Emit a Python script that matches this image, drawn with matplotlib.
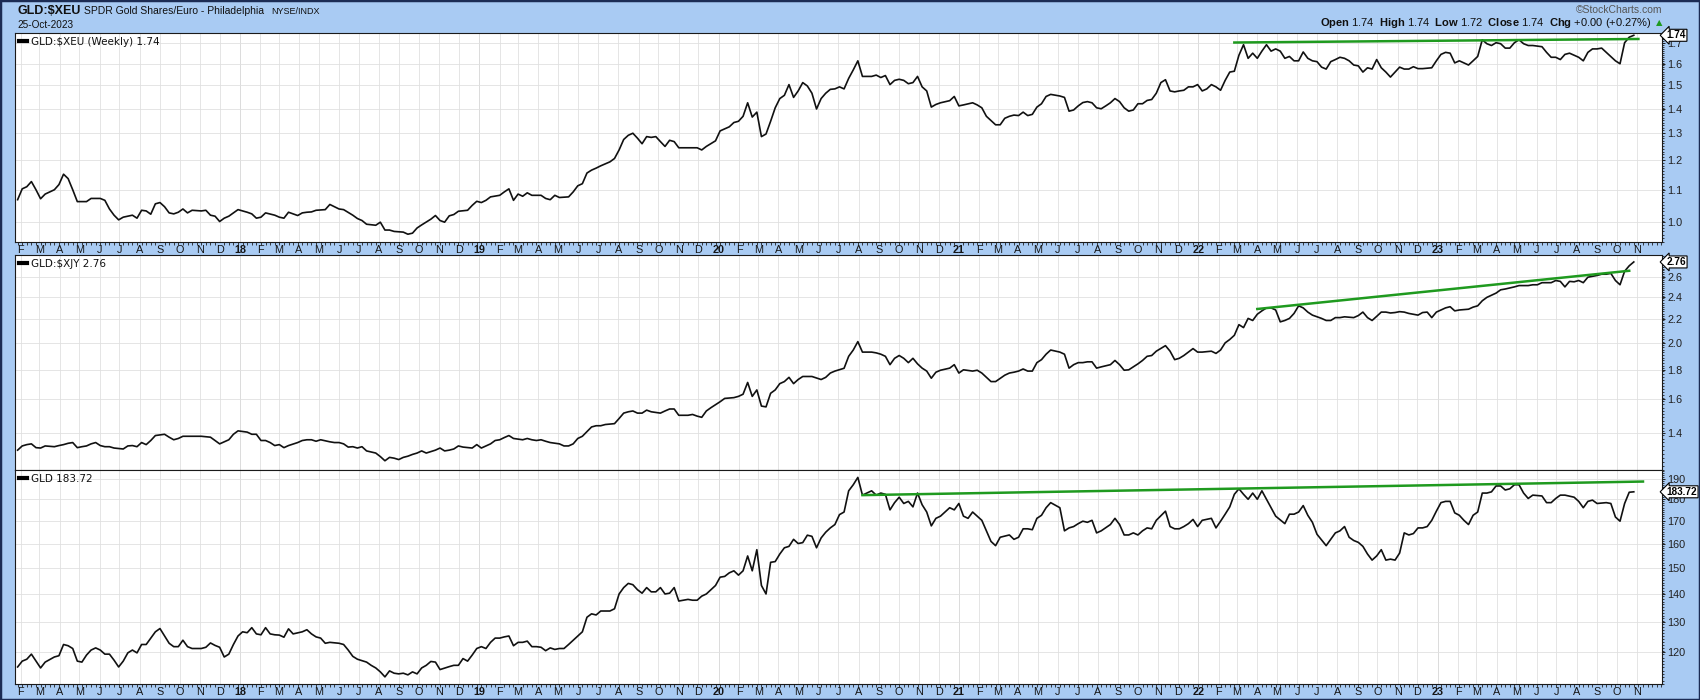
import numpy as np
import pandas as pd
import matplotlib
matplotlib.use("Agg")
import matplotlib.pyplot as plt
from matplotlib.ticker import FixedLocator, FixedFormatter, NullFormatter
from matplotlib.lines import Line2D
from matplotlib.patches import Rectangle

plt.rcParams["mathtext.fontset"] = "custom"
plt.rcParams["mathtext.rm"] = "Liberation Sans"
plt.rcParams["mathtext.bf"] = "Liberation Sans:bold"

# weekly bars, counted from the first bar of the chart
first_bar = pd.Timestamp("2017-01-27")

# GLD:$XEU (top panel)
xeu_week = [0, 1, 2, 3, 4, 5, 6, 8, 9, 10,
            11, 12, 13, 14, 15, 16, 18, 19, 20, 21,
            22, 23, 24, 25, 26, 27, 28, 29, 30, 31,
            32, 33, 34, 35, 36, 37, 38, 39, 40, 41,
            42, 43, 44, 45, 46, 48, 50, 51, 52, 53,
            54, 56, 57, 58, 59, 61, 62, 63, 64, 65,
            67, 68, 70, 71, 73, 74, 75, 76, 78, 79,
            80, 81, 82, 84, 85, 86, 87, 88, 90, 91,
            92, 93, 94, 95, 96, 98, 99, 100, 101, 102,
            103, 105, 106, 107, 108, 109, 110, 111, 112, 114,
            115, 116, 117, 118, 120, 121, 122, 123, 124, 125,
            126, 127, 129, 130, 131, 132, 133, 134, 135, 136,
            137, 138, 139, 140, 141, 142, 143, 144, 146, 147,
            148, 149, 150, 152, 153, 154, 155, 156, 157, 158,
            159, 160, 161, 162, 163, 164, 165, 166, 167, 168,
            169, 170, 171, 172, 173, 174, 175, 176, 177, 178,
            179, 180, 181, 182, 183, 184, 186, 187, 188, 189,
            190, 191, 192, 193, 194, 195, 196, 197, 198, 199,
            200, 201, 203, 204, 205, 206, 208, 209, 210, 211,
            213, 214, 215, 216, 217, 218, 219, 220, 221, 222,
            223, 224, 225, 227, 228, 229, 230, 231, 232, 233,
            234, 235, 236, 237, 238, 239, 240, 241, 242, 243,
            244, 245, 246, 247, 248, 249, 250, 251, 252, 253,
            254, 255, 256, 257, 258, 259, 260, 261, 262, 263,
            264, 265, 266, 267, 268, 269, 270, 271, 272, 273,
            274, 275, 276, 277, 278, 279, 280, 281, 282, 283,
            284, 285, 286, 287, 288, 289, 290, 291, 292, 293,
            294, 295, 296, 297, 298, 299, 300, 301, 302, 303,
            304, 305, 306, 308, 309, 310, 311, 312, 313, 314,
            315, 316, 317, 318, 319, 320, 321, 322, 323, 324,
            325, 326, 327, 328, 329, 330, 332, 333, 334, 335,
            336, 337, 338, 340, 341, 342, 343, 344, 345, 346,
            348, 349, 350, 351, 352]
xeu_val = [1.068, 1.103, 1.110, 1.127, 1.100, 1.071, 1.086, 1.100, 1.117, 1.152,
           1.137, 1.100, 1.062, 1.062, 1.062, 1.072, 1.072, 1.066, 1.039, 1.020,
           1.006, 1.014, 1.017, 1.020, 1.011, 1.035, 1.033, 1.023, 1.055, 1.059,
           1.046, 1.027, 1.024, 1.029, 1.039, 1.027, 1.035, 1.034, 1.033, 1.035,
           1.020, 1.017, 1.001, 1.011, 1.017, 1.037, 1.029, 1.024, 1.011, 1.014,
           1.027, 1.020, 1.014, 1.011, 1.029, 1.019, 1.027, 1.029, 1.030, 1.035,
           1.037, 1.053, 1.039, 1.037, 1.020, 1.010, 1.004, 0.993, 0.990, 0.999,
           0.976, 0.976, 0.972, 0.970, 0.964, 0.967, 0.982, 0.991, 1.008, 1.019,
           1.004, 0.999, 1.018, 1.022, 1.032, 1.035, 1.050, 1.063, 1.059, 1.066,
           1.077, 1.082, 1.093, 1.103, 1.066, 1.086, 1.079, 1.090, 1.082, 1.082,
           1.072, 1.068, 1.082, 1.075, 1.077, 1.093, 1.113, 1.120, 1.156, 1.166,
           1.173, 1.181, 1.195, 1.207, 1.238, 1.277, 1.293, 1.301, 1.282, 1.261,
           1.288, 1.285, 1.288, 1.269, 1.251, 1.274, 1.269, 1.246, 1.246, 1.246,
           1.246, 1.238, 1.251, 1.272, 1.310, 1.318, 1.326, 1.343, 1.348, 1.368,
           1.424, 1.365, 1.385, 1.288, 1.298, 1.348, 1.403, 1.442, 1.456, 1.503,
           1.447, 1.475, 1.512, 1.497, 1.465, 1.398, 1.442, 1.465, 1.482, 1.484,
           1.493, 1.484, 1.531, 1.570, 1.613, 1.540, 1.540, 1.546, 1.535, 1.544,
           1.503, 1.522, 1.527, 1.522, 1.507, 1.512, 1.540, 1.493, 1.475, 1.406,
           1.417, 1.424, 1.433, 1.451, 1.411, 1.415, 1.424, 1.415, 1.403, 1.368,
           1.334, 1.334, 1.360, 1.368, 1.373, 1.371, 1.385, 1.371, 1.376, 1.406,
           1.420, 1.451, 1.460, 1.453, 1.447, 1.389, 1.394, 1.411, 1.425, 1.429,
           1.424, 1.403, 1.399, 1.411, 1.424, 1.442, 1.429, 1.403, 1.389, 1.394,
           1.420, 1.420, 1.434, 1.438, 1.465, 1.512, 1.525, 1.475, 1.471, 1.475,
           1.478, 1.493, 1.493, 1.503, 1.475, 1.484, 1.503, 1.493, 1.478, 1.522,
           1.560, 1.564, 1.640, 1.692, 1.625, 1.650, 1.625, 1.660, 1.692, 1.660,
           1.671, 1.660, 1.625, 1.634, 1.613, 1.613, 1.656, 1.625, 1.613, 1.609,
           1.583, 1.574, 1.609, 1.619, 1.630, 1.625, 1.613, 1.593, 1.589, 1.560,
           1.580, 1.574, 1.619, 1.580, 1.560, 1.537, 1.560, 1.583, 1.574, 1.574,
           1.585, 1.576, 1.576, 1.580, 1.613, 1.644, 1.654, 1.650, 1.603, 1.613,
           1.603, 1.593, 1.613, 1.634, 1.717, 1.697, 1.688, 1.702, 1.697, 1.675,
           1.675, 1.702, 1.717, 1.697, 1.688, 1.688, 1.682, 1.654, 1.630, 1.630,
           1.619, 1.644, 1.650, 1.630, 1.613, 1.654, 1.671, 1.671, 1.675, 1.654,
           1.613, 1.599, 1.702, 1.730, 1.740]

# GLD:$XJY (middle panel)
xjy_week = [0, 1, 2, 3, 4, 5, 6, 8, 9, 10,
            11, 12, 13, 14, 15, 16, 17, 18, 19, 20,
            21, 23, 24, 25, 26, 27, 28, 29, 30, 32,
            33, 34, 35, 36, 38, 40, 42, 43, 44, 46,
            47, 48, 50, 51, 52, 53, 54, 55, 56, 57,
            58, 59, 61, 62, 63, 64, 65, 66, 68, 69,
            70, 71, 72, 73, 74, 75, 76, 78, 79, 80,
            81, 82, 83, 84, 85, 86, 87, 88, 89, 91,
            92, 93, 94, 95, 96, 97, 99, 100, 101, 102,
            103, 104, 105, 106, 107, 108, 110, 111, 112, 113,
            114, 115, 116, 118, 119, 120, 121, 122, 123, 125,
            126, 127, 128, 130, 131, 132, 133, 134, 135, 136,
            137, 138, 140, 141, 142, 143, 144, 146, 147, 148,
            149, 150, 151, 152, 153, 154, 156, 157, 158, 159,
            160, 161, 162, 163, 164, 165, 166, 167, 168, 169,
            170, 171, 172, 173, 175, 176, 177, 178, 180, 181,
            182, 183, 184, 186, 187, 188, 189, 190, 191, 192,
            193, 194, 195, 196, 197, 198, 199, 200, 201, 203,
            204, 205, 206, 208, 209, 210, 211, 212, 213, 215,
            216, 217, 218, 219, 220, 221, 222, 223, 224, 225,
            227, 228, 229, 230, 231, 232, 233, 234, 235, 236,
            238, 239, 240, 241, 242, 243, 244, 245, 246, 247,
            248, 250, 251, 252, 253, 254, 255, 256, 257, 258,
            260, 261, 262, 263, 264, 265, 266, 267, 268, 269,
            270, 271, 272, 273, 274, 275, 276, 277, 278, 279,
            280, 281, 282, 284, 285, 286, 287, 288, 289, 291,
            292, 293, 294, 295, 296, 297, 298, 299, 300, 301,
            302, 303, 305, 306, 307, 308, 309, 310, 311, 312,
            313, 314, 316, 317, 318, 319, 320, 321, 322, 323,
            324, 326, 327, 328, 329, 330, 331, 332, 334, 335,
            336, 337, 338, 339, 340, 341, 342, 344, 345, 346,
            347, 348, 349, 350, 351, 352]
xjy_val = [1.308, 1.330, 1.337, 1.341, 1.321, 1.319, 1.330, 1.326, 1.332, 1.337,
           1.344, 1.348, 1.321, 1.326, 1.330, 1.341, 1.348, 1.332, 1.326, 1.326,
           1.319, 1.314, 1.330, 1.332, 1.326, 1.348, 1.337, 1.359, 1.386, 1.393,
           1.377, 1.363, 1.370, 1.382, 1.382, 1.382, 1.377, 1.359, 1.341, 1.363,
           1.393, 1.412, 1.405, 1.393, 1.393, 1.359, 1.359, 1.348, 1.332, 1.337,
           1.321, 1.332, 1.348, 1.359, 1.363, 1.363, 1.355, 1.363, 1.352, 1.348,
           1.348, 1.341, 1.324, 1.326, 1.319, 1.326, 1.304, 1.293, 1.275, 1.254,
           1.271, 1.267, 1.260, 1.271, 1.277, 1.286, 1.293, 1.304, 1.293, 1.308,
           1.319, 1.304, 1.308, 1.314, 1.330, 1.324, 1.319, 1.337, 1.319, 1.330,
           1.341, 1.359, 1.363, 1.375, 1.386, 1.370, 1.363, 1.370, 1.363, 1.359,
           1.363, 1.355, 1.348, 1.341, 1.330, 1.330, 1.341, 1.370, 1.382, 1.434,
           1.441, 1.441, 1.448, 1.453, 1.483, 1.515, 1.523, 1.528, 1.515, 1.515,
           1.533, 1.523, 1.515, 1.528, 1.540, 1.540, 1.502, 1.502, 1.507, 1.497,
           1.490, 1.528, 1.548, 1.566, 1.585, 1.606, 1.611, 1.619, 1.633, 1.711,
           1.619, 1.661, 1.558, 1.553, 1.639, 1.661, 1.703, 1.717, 1.746, 1.703,
           1.731, 1.752, 1.752, 1.752, 1.731, 1.746, 1.776, 1.790, 1.810, 1.898,
           1.946, 2.012, 1.930, 1.930, 1.924, 1.914, 1.898, 1.836, 1.883, 1.904,
           1.883, 1.851, 1.883, 1.842, 1.811, 1.790, 1.740, 1.782, 1.796, 1.811,
           1.836, 1.776, 1.799, 1.790, 1.796, 1.776, 1.746, 1.717, 1.717, 1.761,
           1.776, 1.782, 1.790, 1.805, 1.790, 1.790, 1.851, 1.873, 1.914, 1.946,
           1.930, 1.914, 1.811, 1.836, 1.851, 1.851, 1.857, 1.857, 1.811, 1.820,
           1.836, 1.867, 1.836, 1.796, 1.799, 1.820, 1.842, 1.867, 1.898, 1.904,
           1.937, 1.980, 1.937, 1.873, 1.883, 1.904, 1.930, 1.957, 1.930, 1.930,
           1.937, 1.920, 1.946, 2.002, 2.029, 2.063, 2.152, 2.127, 2.206, 2.188,
           2.243, 2.273, 2.300, 2.300, 2.281, 2.176, 2.188, 2.206, 2.250, 2.319,
           2.300, 2.262, 2.235, 2.206, 2.188, 2.188, 2.213, 2.213, 2.220, 2.213,
           2.231, 2.262, 2.213, 2.188, 2.224, 2.262, 2.262, 2.254, 2.258, 2.266,
           2.262, 2.250, 2.235, 2.258, 2.262, 2.213, 2.262, 2.281, 2.300, 2.311,
           2.273, 2.281, 2.288, 2.307, 2.319, 2.366, 2.398, 2.418, 2.439, 2.471,
           2.479, 2.500, 2.513, 2.513, 2.513, 2.521, 2.521, 2.542, 2.542, 2.564,
           2.555, 2.500, 2.555, 2.551, 2.564, 2.542, 2.598, 2.616, 2.629, 2.629,
           2.638, 2.564, 2.521, 2.660, 2.718, 2.760]

# GLD (bottom panel)
gld_week = [0, 1, 2, 3, 4, 5, 6, 8, 9, 10,
            11, 12, 13, 14, 15, 16, 17, 18, 19, 20,
            21, 22, 23, 24, 25, 26, 27, 28, 29, 30,
            31, 32, 33, 34, 35, 36, 37, 38, 40, 41,
            42, 43, 44, 45, 46, 47, 48, 49, 50, 51,
            52, 53, 54, 55, 56, 57, 58, 59, 60, 62,
            63, 64, 65, 66, 67, 68, 70, 71, 72, 73,
            74, 76, 77, 78, 79, 80, 81, 82, 83, 84,
            85, 86, 87, 88, 89, 90, 91, 92, 94, 95,
            96, 97, 98, 99, 100, 101, 102, 103, 104, 105,
            106, 107, 108, 109, 110, 111, 112, 113, 114, 115,
            116, 117, 118, 119, 120, 122, 123, 124, 125, 126,
            127, 129, 130, 131, 132, 133, 134, 135, 136, 137,
            138, 139, 140, 141, 142, 143, 144, 146, 147, 148,
            149, 150, 152, 153, 154, 155, 156, 157, 158, 159,
            160, 161, 162, 163, 164, 165, 166, 167, 168, 169,
            170, 171, 172, 173, 174, 175, 176, 177, 178, 179,
            180, 181, 182, 183, 184, 186, 187, 188, 189, 190,
            191, 192, 193, 194, 195, 196, 197, 198, 199, 200,
            201, 203, 204, 205, 206, 207, 208, 209, 210, 211,
            212, 213, 214, 216, 217, 218, 219, 220, 221, 222,
            223, 224, 225, 227, 228, 229, 230, 231, 232, 233,
            234, 235, 236, 238, 239, 240, 241, 242, 243, 244,
            245, 246, 247, 248, 250, 251, 252, 253, 254, 255,
            256, 257, 258, 260, 261, 262, 263, 264, 265, 266,
            267, 268, 269, 270, 271, 272, 273, 274, 276, 277,
            278, 279, 280, 281, 282, 283, 285, 286, 287, 288,
            289, 290, 291, 292, 293, 294, 295, 296, 297, 298,
            299, 300, 301, 302, 303, 304, 305, 306, 307, 308,
            309, 310, 311, 312, 313, 314, 315, 316, 317, 318,
            319, 320, 321, 322, 323, 324, 325, 326, 327, 328,
            329, 330, 332, 333, 334, 335, 336, 337, 339, 340,
            341, 342, 343, 344, 346, 347, 348, 349, 350, 351,
            352]
gld_val = [115.3, 117.1, 117.7, 119.3, 117.1, 115.0, 116.8, 118.4, 118.8, 122.4,
           122.0, 121.1, 117.1, 116.8, 119.0, 120.6, 121.3, 120.6, 119.3, 119.3,
           117.4, 115.3, 117.1, 119.7, 120.6, 119.7, 122.4, 122.4, 124.5, 126.6,
           127.7, 125.2, 122.8, 121.7, 121.7, 123.8, 121.7, 121.1, 121.1, 121.5,
           122.9, 122.1, 121.5, 118.4, 119.3, 122.4, 125.2, 126.6, 126.3, 128.0,
           125.9, 125.6, 128.0, 125.9, 125.6, 125.5, 124.8, 127.6, 125.9, 126.6,
           127.3, 125.9, 124.9, 124.5, 122.8, 123.1, 122.8, 122.4, 120.6, 118.6,
           117.7, 116.8, 115.8, 115.0, 113.8, 112.3, 114.1, 113.4, 113.2, 113.4,
           112.9, 113.8, 113.2, 115.0, 115.8, 117.0, 116.8, 114.5, 115.4, 115.8,
           115.8, 117.9, 117.1, 119.0, 121.1, 121.7, 121.1, 123.1, 124.5, 124.5,
           124.9, 125.2, 122.0, 123.1, 123.1, 123.5, 121.7, 121.7, 121.5, 120.4,
           121.3, 120.8, 121.1, 121.1, 122.4, 125.2, 126.6, 131.6, 132.8, 132.4,
           133.8, 133.8, 134.6, 140.0, 142.4, 144.0, 143.5, 141.6, 140.3, 142.4,
           140.8, 140.8, 142.4, 140.0, 140.3, 142.4, 137.4, 138.0, 137.7, 137.7,
           139.2, 140.0, 143.2, 146.4, 146.7, 148.1, 148.9, 147.2, 148.9, 154.9,
           148.9, 157.5, 143.2, 140.0, 152.3, 152.6, 155.7, 158.3, 158.9, 161.9,
           160.1, 160.5, 163.7, 163.2, 158.3, 162.5, 165.0, 166.9, 168.4, 172.9,
           174.1, 184.2, 187.2, 190.9, 182.1, 184.2, 182.1, 183.1, 182.5, 175.1,
           178.5, 181.1, 178.1, 179.1, 176.5, 183.1, 177.5, 174.1, 167.8, 171.2,
           172.2, 176.1, 175.1, 178.1, 172.2, 171.2, 174.1, 172.2, 170.3, 165.6,
           161.0, 159.2, 162.8, 163.8, 161.9, 162.8, 166.5, 166.5, 166.1, 171.2,
           172.6, 176.1, 178.5, 176.1, 165.6, 166.9, 167.5, 168.8, 169.9, 169.4,
           170.3, 164.7, 165.6, 168.4, 171.2, 168.4, 163.8, 163.8, 164.7, 163.8,
           165.6, 166.9, 166.5, 170.3, 174.5, 167.5, 166.5, 166.5, 167.5, 168.8,
           170.7, 167.5, 170.3, 171.2, 166.9, 169.9, 173.1, 176.5, 182.5, 185.2,
           182.5, 180.1, 183.1, 180.1, 184.2, 180.1, 176.1, 172.2, 168.8, 173.1,
           173.1, 174.1, 177.1, 172.6, 169.4, 164.1, 159.2, 161.9, 164.7, 165.6,
           167.5, 162.8, 161.4, 160.6, 158.9, 155.7, 153.2, 154.9, 157.5, 153.2,
           153.6, 153.2, 156.1, 164.7, 163.8, 164.4, 166.9, 166.9, 167.5, 170.3,
           174.5, 178.5, 179.1, 179.1, 173.7, 172.6, 170.3, 168.4, 172.6, 174.1,
           183.1, 183.1, 183.7, 186.6, 186.6, 184.6, 185.2, 187.2, 187.2, 183.1,
           180.5, 182.1, 181.7, 178.5, 178.5, 180.5, 182.1, 182.1, 181.1, 179.1,
           176.1, 179.1, 179.7, 178.1, 178.5, 178.1, 171.8, 169.9, 178.1, 183.5,
           183.72]

# hand-drawn trend lines (start / end week, value)
xeu_trend_week = [265, 353]
xeu_trend_val = [1.703, 1.721]
xjy_trend_week = [270, 351]
xjy_trend_val = [2.29, 2.665]
gld_trend_week = [184, 354]
gld_trend_val = [182.1, 188.8]

xeu_ticks = [1.0, 1.1, 1.2, 1.3, 1.4, 1.5, 1.6, 1.7]
xjy_ticks = [1.4, 1.6, 1.8, 2.0, 2.2, 2.4, 2.6]
gld_ticks = [120, 130, 140, 150, 160, 170, 180, 190]

BG = "#a9cbf3"
GRID = "#e0e0e0"
GREEN = "#1f9a1f"


def to_dates(weeks):
    return first_bar + pd.to_timedelta(np.asarray(weeks) * 7, unit="D")


fig = plt.figure(figsize=(17, 7), dpi=100, facecolor=BG)
L, W = 15 / 1700, 1647 / 1700
ax1 = fig.add_axes([L, 0.6543, W, 0.2986])
ax2 = fig.add_axes([L, 0.3286, W, 0.3071], sharex=ax1)
ax3 = fig.add_axes([L, 0.0229, W, 0.3057], sharex=ax1)

months = pd.date_range("2017-02-01", "2023-11-01", freq="MS")
month_lbl = [f"{m.year % 100:02d}" if m.month == 1 else "JFMAMJJASOND"[m.month - 1] for m in months]
years = [m for m in months if m.month == 1]
week_ticks = pd.date_range("2017-01-27", "2023-12-08", freq="7D")

panels = [
    (ax1, xeu_week, xeu_val, xeu_trend_week, xeu_trend_val, xeu_ticks, "{:.1f}", (0.942, 1.752), 0.01,
     "GLD:\\$XEU (Weekly) 1.74", "1.74"),
    (ax2, xjy_week, xjy_val, xjy_trend_week, xjy_trend_val, xjy_ticks, "{:.1f}", (1.209, 2.837), 0.02,
     "GLD:\\$XJY 2.76", "2.76"),
    (ax3, gld_week, gld_val, gld_trend_week, gld_trend_val, gld_ticks, "{:.0f}", (110.2, 194.7), 1.0,
     "GLD 183.72", "183.72"),
]

for ax, wk, val, twk, tval, ticks, fmt, ylim, mstep, label, last in panels:
    ax.set_facecolor("white")
    ax.set_yscale("log")
    ax.set_ylim(*ylim)
    ax.yaxis.tick_right()
    ax.yaxis.set_major_locator(FixedLocator(ticks))
    ax.yaxis.set_major_formatter(FixedFormatter([fmt.format(t) for t in ticks]))
    ax.yaxis.set_minor_locator(FixedLocator(np.arange(ylim[0], ylim[1], mstep)))
    ax.yaxis.set_minor_formatter(NullFormatter())
    ax.tick_params(axis="y", which="major", length=2.5, width=0.7, pad=1.5,
                   labelsize=7.8, labelcolor="#202020", color="#202020")
    ax.tick_params(axis="y", which="minor", length=1.5, width=0.6, color="#202020")
    for lbl in ax.get_yticklabels():
        lbl.set_family("Liberation Sans")

    ax.grid(True, which="major", color=GRID, lw=0.6, zorder=0)
    for y in years:
        ax.axvline(y, color="#c8c8c8", lw=0.7, zorder=0.5)
    for sp in ax.spines.values():
        sp.set_color("#1a1a1a")
        sp.set_linewidth(0.8)

    ax.plot(to_dates(wk), val, color="#111111", lw=1.2, zorder=3)
    ax.plot(to_dates(twk), tval, color=GREEN, lw=1.8, zorder=4)

    proxy = Line2D([], [], color="black", lw=3)
    leg = ax.legend([proxy], [label], loc="upper left", frameon=False, fontsize=7.5,
                    handlelength=0.8, handletextpad=0.35, borderaxespad=0.15, borderpad=0.2)
    leg.get_texts()[0].set_color("#111111")

    ax.annotate(last, xy=(1.0, val[-1]), xycoords=("axes fraction", "data"),
                xytext=(3.2, 0), textcoords="offset points", ha="left", va="center",
                fontsize=7.2, fontweight="bold", family="Liberation Sans", color="black",
                bbox=dict(boxstyle="larrow,pad=0.1", fc="white", ec="black", lw=0.8),
                annotation_clip=False, zorder=10)

ax1.set_xlim(pd.Timestamp("2017-01-23"), pd.Timestamp("2023-12-09"))
ax1.xaxis.set_major_locator(FixedLocator(matplotlib.dates.date2num(months)))
ax1.xaxis.set_major_formatter(FixedFormatter(month_lbl))
ax1.xaxis.set_minor_locator(FixedLocator(matplotlib.dates.date2num(week_ticks)))

for ax in (ax1, ax2, ax3):
    ax.tick_params(axis="x", which="major", length=0, pad=2.2, labelsize=7.8,
                   labelcolor="#151515")
    ax.tick_params(axis="x", which="minor", length=2, width=0.6, color="#202020")
ax2.tick_params(axis="x", which="both", labelbottom=False)
for ax in (ax1, ax3):
    for lbl in ax.get_xticklabels():
        lbl.set_family("Liberation Sans")
        if lbl.get_text().isdigit():
            lbl.set_fontweight("bold")

# header
fig.text(17 / 1700, 1 - 11 / 700, "GLD:\\$XEU", fontsize=9, fontweight="bold",
         family="Liberation Sans", va="center", color="#101010")
fig.text(84 / 1700, 1 - 11.5 / 700, "SPDR Gold Shares/Euro - Philadelphia", fontsize=7.5,
         family="Liberation Sans", va="center", color="#101010")
fig.text(271 / 1700, 1 - 11.5 / 700, "NYSE/INDX", fontsize=6.5,
         family="Liberation Sans", va="center", color="#101010")
fig.text(17 / 1700, 1 - 24.5 / 700, "25-Oct-2023", fontsize=7.2,
         family="Liberation Sans", va="center", color="#101010")
fig.text(1662 / 1700, 1 - 10 / 700, "\u00a9StockCharts.com", fontsize=7.5,
         family="Liberation Sans", va="center", ha="right", color="#555555")
fig.text(1652 / 1700, 1 - 23 / 700,
         r"$\mathbf{Open}$ 1.74  $\mathbf{High}$ 1.74  $\mathbf{Low}$ 1.72  "
         r"$\mathbf{Close}$ 1.74  $\mathbf{Chg}$ +0.00 (+0.27%)",
         fontsize=8, family="Liberation Sans", va="center", ha="right", color="#101010")
fig.text(1662 / 1700, 1 - 23 / 700, "\u25b2", fontsize=6, va="center", ha="right", color=GREEN)

fig.patches.append(Rectangle((0, 0), 1, 1, transform=fig.transFigure, fill=False,
                             ec="#1c2c54", lw=2.5))

fig.savefig("out.png", dpi=100, facecolor=BG)
